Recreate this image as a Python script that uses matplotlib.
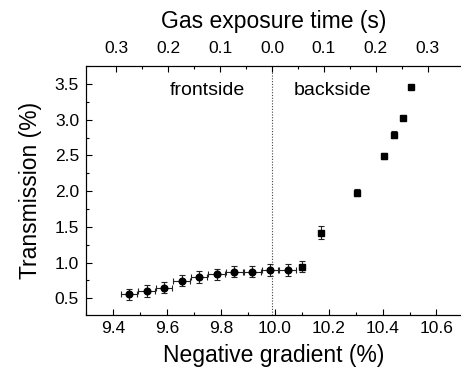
import numpy as np
import matplotlib
matplotlib.use('Agg')
import matplotlib.pyplot as plt
from matplotlib.ticker import MultipleLocator, FormatStrFormatter

plt.rcParams['font.family'] = ['Liberation Sans', 'DejaVu Sans']

# frontside / near-zero points (circles)
grad_front = [9.459, 9.525, 9.589, 9.655, 9.719, 9.785, 9.850, 9.917, 9.982, 10.048]
trans_front = [0.556, 0.602, 0.648, 0.746, 0.798, 0.836, 0.872, 0.872, 0.896, 0.896]
gerr_front = [0.031] * 10
terr_front = [0.08, 0.08, 0.08, 0.08, 0.08, 0.08, 0.08, 0.08, 0.08, 0.08]

# backside points (squares)
grad_back = [10.103, 10.172, 10.304, 10.405, 10.444, 10.475, 10.505]
trans_back = [0.942, 1.418, 1.978, 2.496, 2.790, 3.028, 3.454]
terr_back = [0.08, 0.09, 0.05, 0.04, 0.05, 0.03, 0.03]

zero_grad = 9.990          # gradient where exposure time is 0
sec_per_grad = 0.1 / 0.1926  # top axis scale
time_ticks = [0.3, 0.2, 0.1, 0.0, 0.1, 0.2, 0.3]
time_sign = [-1, -1, -1, 0, 1, 1, 1]

fig = plt.figure(figsize=(4.61, 3.74), dpi=100)
ax = fig.add_axes([86 / 461, 59 / 374, 375 / 461, 249.3 / 374])

ax.errorbar(grad_front, trans_front, xerr=gerr_front, yerr=terr_front, fmt='o',
            color='black', ms=4.8, ecolor='#222222', elinewidth=0.8, capsize=2, capthick=0.8)
ax.errorbar(grad_back, trans_back, yerr=terr_back, fmt='s',
            color='black', ms=4.2, ecolor='#222222', elinewidth=0.8, capsize=2, capthick=0.8)

ax.axvline(zero_grad, color='#444444', lw=0.8, ls=(0, (1, 1.5)))

ax.set_xlim(9.3, 9.3 + 375 / 269.6)
ax.set_ylim(0.266, 3.756)
ax.xaxis.set_major_locator(MultipleLocator(0.2))
ax.xaxis.set_minor_locator(MultipleLocator(0.1))
ax.yaxis.set_major_locator(MultipleLocator(0.5))
ax.yaxis.set_minor_locator(MultipleLocator(0.25))
ax.xaxis.set_major_formatter(FormatStrFormatter('%.1f'))
ax.yaxis.set_major_formatter(FormatStrFormatter('%.1f'))
ax.tick_params(which='both', direction='in', labelsize=12.5, width=0.8)
ax.tick_params(which='major', length=4)
ax.tick_params(which='minor', length=2)
ax.tick_params(axis='x', pad=4)
ax.tick_params(axis='y', pad=5)
ax.spines['right'].set_visible(False)
ax.set_xlabel('Negative gradient (%)', fontsize=16.5, labelpad=6)
ax.set_ylabel('Transmission (%)', fontsize=16.5, labelpad=9)

ax.text(9.752, 3.41, 'frontside', fontsize=14, ha='center', va='center')
ax.text(10.216, 3.41, 'backside', fontsize=14, ha='center', va='center')

# top axis: exposure time in both directions from zero
top = ax.twiny()
top.set_xlim(ax.get_xlim())
top_pos = [zero_grad + s * t / sec_per_grad for s, t in zip(time_sign, time_ticks)]
minor_t = [-0.25, -0.15, -0.05, 0.05, 0.15, 0.25]
top.set_xticks(top_pos)
top.set_xticklabels(['%.1f' % t for t in time_ticks])
top.set_xticks([zero_grad + t / sec_per_grad for t in minor_t], minor=True)
top.tick_params(which='both', direction='in', labelsize=12.5, width=0.8, pad=7)
top.tick_params(which='major', length=4)
top.tick_params(which='minor', length=2)
top.spines['right'].set_visible(False)
top.set_xlabel('Gas exposure time (s)', fontsize=16.5, labelpad=9)

fig.savefig('out.png', dpi=100)
